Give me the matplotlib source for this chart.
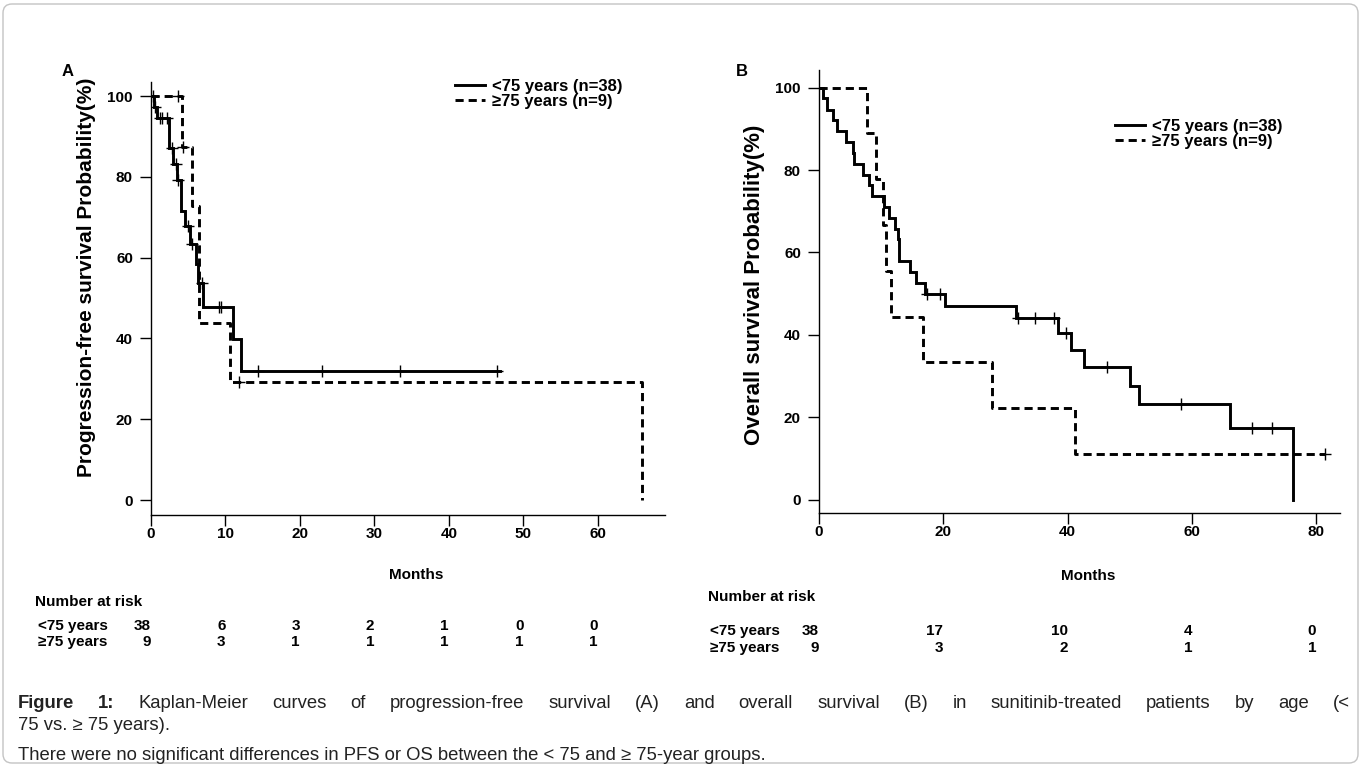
import numpy as np
import matplotlib
matplotlib.use("Agg")
import matplotlib.pyplot as plt
from matplotlib.patches import FancyBboxPatch
from matplotlib.transforms import IdentityTransform

# ---------------- data ----------------
# Panel A : progression-free survival (months, %)
a_lt75_time = [0, 0.4, 0.75, 2.45, 3.0, 3.5, 4.0, 4.55, 5.2, 6.0, 6.3, 7.0, 10.95, 12.1, 46.9]
a_lt75_surv = [100, 97.4, 94.6, 87.1, 83.2, 79.2, 71.6, 67.8, 63.5, 58.5, 53.8, 47.8, 39.8, 31.9, 31.9]
a_lt75_cens = [0.25, 0.6, 1.2, 1.5, 2.1, 2.85, 3.3, 3.65, 4.9, 5.45, 6.8, 9.1, 9.4, 14.4, 23.0, 33.4, 46.5]
a_ge75_time = [0, 4.15, 5.45, 6.4, 10.6, 65.9]
a_ge75_surv = [100, 87.5, 72.9, 43.75, 29.2, 0]
a_ge75_cens = [3.65, 4.35, 11.8]

# Panel B : overall survival (months, %)
b_lt75_time = [0, 0.7, 1.23, 2.2, 2.95, 4.34, 5.41, 5.68, 7.13, 8.09, 8.47, 10.45, 11.3, 12.2,
               12.75, 12.9, 14.7, 15.6, 17.1, 20.3, 31.7, 38.5, 40.5, 42.65, 50.1, 51.4, 66.1, 76.2]
b_lt75_surv = [100, 97.4, 94.7, 92.1, 89.5, 86.8, 84.2, 81.6, 78.9, 76.3, 73.7, 71.1, 68.4, 65.8,
               63.2, 57.9, 55.3, 52.6, 50.0, 47.1, 44.1, 40.4, 36.4, 32.3, 27.7, 23.1, 17.3, 0]
b_lt75_cens = [17.4, 19.45, 32.0, 34.7, 37.8, 39.7, 46.3, 58.2, 69.7, 72.9]
b_ge75_time = [0, 7.66, 9.1, 10.3, 10.7, 11.6, 16.8, 27.9, 41.2, 81.4]
b_ge75_surv = [100, 88.9, 77.8, 66.7, 55.6, 44.4, 33.3, 22.2, 11.1, 11.1]
b_ge75_cens = [81.4]

# number at risk tables
a_risk_times = [0, 10, 20, 30, 40, 50, 60]
a_risk_lt75 = [38, 6, 3, 2, 1, 0, 0]
a_risk_ge75 = [9, 3, 1, 1, 1, 1, 1]
b_risk_times = [0, 20, 40, 60, 80]
b_risk_lt75 = [38, 17, 10, 4, 0]
b_risk_ge75 = [9, 3, 2, 1, 1]

y_ticks = [0, 20, 40, 60, 80, 100]
a_x_ticks = [0, 10, 20, 30, 40, 50, 60]
b_x_ticks = [0, 20, 40, 60, 80]

series_labels = ["<75 years (n=38)", "\u226575 years (n=9)"]
row_labels = ["<75 years", "\u226575 years"]
a_ylabel = "Progression-free survival Probability(%)"
b_ylabel = "Overall survival Probability(%)"
caption_line1 = ("Figure 1: Kaplan-Meier curves of progression-free survival (A) and overall "
                 "survival (B) in sunitinib-treated patients by age (<")
caption_line2 = "75 vs. \u2265 75 years)."
caption_line3 = "There were no significant differences in PFS or OS between the < 75 and \u2265 75-year groups."

# ---------------- figure ----------------
W, H = 1362, 767
FONT = ["Liberation Sans", "DejaVu Sans"]
plt.rcParams["font.family"] = FONT
fig = plt.figure(figsize=(W / 100, H / 100), dpi=100)
fig.patch.set_facecolor("white")

border = FancyBboxPatch((3, 4), W - 7, H - 8, boxstyle="round,pad=0,rounding_size=9",
                        transform=IdentityTransform(), facecolor="none",
                        edgecolor="#c4c4c4", linewidth=1.0)
fig.patches.append(border)


def axes_px(left, top, right, bottom):
    return fig.add_axes([left / W, 1 - bottom / H, (right - left) / W, (bottom - top) / H])


LW = 2.1
DASH = (0, (2.8, 1.7))
TICK_FS = 11
LEG_FS = 12


def at(times, surv, x):
    i = np.searchsorted(times, x, side="right") - 1
    return surv[i]


def km_panel(ax, lt_t, lt_s, lt_c, ge_t, ge_s, ge_c, xlim, ylim, xticks, ylabel,
             ylabel_fs, legend_xy):
    l1, = ax.step(lt_t, lt_s, where="post", color="black", lw=LW, solid_joinstyle="miter")
    l2, = ax.step(ge_t, ge_s, where="post", color="black", lw=LW, linestyle=DASH)
    ax.plot(lt_c, [at(lt_t, lt_s, c) for c in lt_c], linestyle="none", marker="+",
            ms=8, mew=1.0, color="black")
    ax.plot(ge_c, [at(ge_t, ge_s, c) for c in ge_c], linestyle="none", marker="+",
            ms=8, mew=1.0, color="black")
    ax.set_xlim(*xlim)
    ax.set_ylim(*ylim)
    ax.set_xticks(xticks)
    ax.set_yticks(y_ticks)
    for s in ("top", "right"):
        ax.spines[s].set_visible(False)
    for s in ("left", "bottom"):
        ax.spines[s].set_linewidth(1.0)
    ax.tick_params(axis="both", direction="out", length=8, width=1.0, labelsize=TICK_FS)
    ax.tick_params(axis="y", pad=5)
    ax.tick_params(axis="x", pad=1)
    for lab in ax.get_xticklabels() + ax.get_yticklabels():
        lab.set_fontweight("bold")
    ax.set_ylabel(ylabel, fontsize=ylabel_fs, fontweight="bold")
    ax.legend([l1, l2], series_labels, loc="upper left",
              bbox_to_anchor=(legend_xy[0] / W, 1 - legend_xy[1] / H),
              bbox_transform=fig.transFigure, frameon=False, borderpad=0,
              borderaxespad=0, handlelength=1.8, handletextpad=0.42,
              labelspacing=0.0, prop={"weight": "bold", "size": LEG_FS})
    return ax


# Panel A
axA = axes_px(151, 82, 665, 515)
km_panel(axA, a_lt75_time, a_lt75_surv, a_lt75_cens, a_ge75_time, a_ge75_surv, a_ge75_cens,
         (0, 69), (-3.7, 103.5), a_x_ticks, a_ylabel, 15, (455, 79))
axA.yaxis.set_label_coords(-0.107, 0.55)

# Panel B
axB = axes_px(819, 70, 1340, 513)
km_panel(axB, b_lt75_time, b_lt75_surv, b_lt75_cens, b_ge75_time, b_ge75_surv, b_ge75_cens,
         (0, 83.8), (-3.25, 104.3), b_x_ticks, b_ylabel, 16, (1115, 119))
axB.yaxis.set_label_coords(-0.104, 0.515)

# panel letters
fig.text(68 / W, 1 - 72 / H, "A", fontsize=12, fontweight="bold", ha="center", va="center")
fig.text(742 / W, 1 - 72 / H, "B", fontsize=12, fontweight="bold", ha="center", va="center")

# x labels
fig.text(416 / W, 1 - 575 / H, "Months", fontsize=TICK_FS, fontweight="bold", ha="center", va="center")
fig.text(1088 / W, 1 - 576 / H, "Months", fontsize=TICK_FS, fontweight="bold", ha="center", va="center")


def risk_table(ax, times, lt, ge, head_xy, row_x, row_y):
    fig.text(head_xy[0] / W, 1 - head_xy[1] / H, "Number at risk", fontsize=TICK_FS,
             fontweight="bold", ha="left", va="center")
    for lab, y in zip(row_labels, row_y):
        fig.text(row_x / W, 1 - y / H, lab, fontsize=TICK_FS, fontweight="bold",
                 ha="left", va="center")
    for vals, y in zip((lt, ge), row_y):
        for t, v in zip(times, vals):
            ax.annotate(str(v), xy=(t, H - y), xycoords=("data", "figure pixels"),
                        ha="right", va="center", fontsize=TICK_FS, fontweight="bold",
                        annotation_clip=False)


risk_table(axA, a_risk_times, a_risk_lt75, a_risk_ge75, (35, 602), 38, (626, 642))
risk_table(axB, b_risk_times, b_risk_lt75, b_risk_ge75, (708, 597), 710, (631, 648))

# caption (first line justified)
CAP_FS = 13.3
renderer = fig.canvas.get_renderer()
words = caption_line1.split(" ")
objs, widths = [], []
for i, w in enumerate(words):
    t = fig.text(0, 1 - 703 / H, w, fontsize=CAP_FS, fontweight="bold" if i < 2 else "normal",
                 ha="left", va="center", color="#222222")
    objs.append(t)
    widths.append(t.get_window_extent(renderer).width)
x0, x1 = 18, 1350
gap = (x1 - x0 - sum(widths)) / (len(words) - 1)
x = x0
for t, w in zip(objs, widths):
    t.set_x(x / W)
    x += w + gap
fig.text(18 / W, 1 - 726 / H, caption_line2, fontsize=CAP_FS, ha="left", va="center", color="#222222")
fig.text(18 / W, 1 - 756 / H, caption_line3, fontsize=CAP_FS, ha="left", va="center", color="#222222")

fig.savefig("out.png", dpi=100, facecolor="white")
